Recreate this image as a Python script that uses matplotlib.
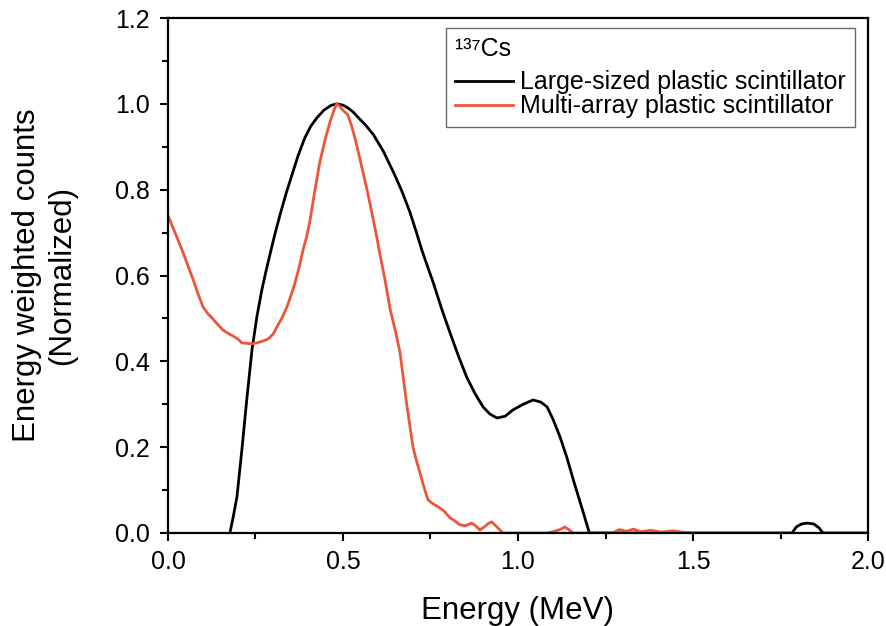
import matplotlib
matplotlib.use("Agg")
import matplotlib.pyplot as plt
from matplotlib.ticker import MultipleLocator

plt.rcParams['font.family'] = ['Liberation Sans', 'DejaVu Sans']

# Large-sized plastic scintillator
large_x = [0.177, 0.187, 0.197, 0.211, 0.225, 0.24, 0.254, 0.268, 0.28, 0.291, 0.305,
           0.32, 0.337, 0.354, 0.372, 0.391, 0.408, 0.425, 0.445, 0.465, 0.482, 0.50,
           0.515, 0.529, 0.545, 0.565, 0.587, 0.615, 0.644, 0.668, 0.691, 0.71, 0.725,
           0.742, 0.758, 0.782, 0.806, 0.83, 0.853, 0.877, 0.90, 0.92, 0.94, 0.963,
           0.986, 1.015, 1.043, 1.065, 1.083, 1.10, 1.12, 1.14, 1.158, 1.18, 1.204,
           1.40, 1.60, 1.783, 1.795, 1.81, 1.827, 1.845, 1.86, 1.871, 2.0]
large_y = [0.0, 0.04, 0.084, 0.193, 0.31, 0.427, 0.504, 0.566, 0.61, 0.648, 0.695,
           0.741, 0.79, 0.834, 0.88, 0.921, 0.948, 0.967, 0.985, 0.996, 1.0, 0.997,
           0.99, 0.981, 0.967, 0.95, 0.928, 0.89, 0.841, 0.797, 0.748, 0.70, 0.66,
           0.62, 0.583, 0.522, 0.466, 0.412, 0.364, 0.325, 0.294, 0.277, 0.268, 0.272,
           0.287, 0.30, 0.31, 0.305, 0.294, 0.265, 0.224, 0.175, 0.124, 0.065, 0.0,
           0.0, 0.0, 0.0, 0.014, 0.021, 0.023, 0.021, 0.012, 0.0, 0.0]

# Multi-array plastic scintillator
multi_x = [0.0, 0.02, 0.04, 0.056, 0.072, 0.086, 0.10, 0.113, 0.126, 0.142, 0.157,
           0.172, 0.186, 0.20, 0.211, 0.225, 0.24, 0.254, 0.27, 0.286, 0.30, 0.311,
           0.325, 0.34, 0.352, 0.363, 0.375, 0.386, 0.396, 0.405, 0.42, 0.434, 0.45,
           0.463, 0.474, 0.482, 0.49, 0.50, 0.514, 0.524, 0.534, 0.546, 0.557, 0.57,
           0.582, 0.594, 0.606, 0.62, 0.635, 0.65, 0.663, 0.683, 0.70, 0.71, 0.72,
           0.732, 0.743, 0.757, 0.772, 0.79, 0.806, 0.82, 0.834, 0.85, 0.868, 0.88,
           0.891, 0.905, 0.915, 0.925, 0.94, 0.957, 0.986, 1.083, 1.10, 1.12, 1.134,
           1.145, 1.157, 1.27, 1.29, 1.31, 1.33, 1.35, 1.38, 1.41, 1.44, 1.47, 1.49]
multi_y = [0.74, 0.70, 0.66, 0.625, 0.59, 0.557, 0.527, 0.512, 0.501, 0.486, 0.473,
           0.465, 0.459, 0.452, 0.443, 0.442, 0.441, 0.443, 0.447, 0.452, 0.463, 0.48,
           0.50, 0.527, 0.555, 0.583, 0.62, 0.66, 0.69, 0.725, 0.80, 0.865, 0.92,
           0.958, 0.985, 1.0, 0.995, 0.985, 0.974, 0.95, 0.921, 0.88, 0.841, 0.795,
           0.748, 0.70, 0.648, 0.59, 0.52, 0.47, 0.42, 0.294, 0.2, 0.168, 0.14,
           0.105, 0.077, 0.068, 0.061, 0.05, 0.035, 0.028, 0.019, 0.017, 0.023, 0.016,
           0.007, 0.015, 0.022, 0.026, 0.014, 0.0, 0.0, 0.0, 0.003, 0.008, 0.014,
           0.008, 0.0, 0.0, 0.008, 0.004, 0.009, 0.003, 0.006, 0.002, 0.005, 0.002, 0.0]

fig = plt.figure(figsize=(8.86, 6.26), dpi=100)
ax = fig.add_axes([0.1896, 0.1486, 0.7901, 0.8226])

ax.plot(large_x, large_y, color='black', lw=2.0, label='Large-sized plastic scintillator')
ax.plot(multi_x, multi_y, color='#ec553a', lw=2.0, label='Multi-array plastic scintillator')

ax.set_xlim(0, 2.0)
ax.set_ylim(0, 1.2)
ax.xaxis.set_major_locator(MultipleLocator(0.5))
ax.xaxis.set_minor_locator(MultipleLocator(0.25))
ax.yaxis.set_major_locator(MultipleLocator(0.2))
ax.yaxis.set_minor_locator(MultipleLocator(0.1))
ax.xaxis.set_major_formatter(plt.FuncFormatter(lambda v, p: f"{v:.1f}"))
ax.yaxis.set_major_formatter(plt.FuncFormatter(lambda v, p: f"{v:.1f}"))
ax.tick_params(which='major', direction='out', length=6, width=1.5, labelsize=18)
ax.tick_params(axis='x', which='major', pad=6)
ax.tick_params(axis='y', which='major', pad=7)
ax.tick_params(which='minor', direction='out', length=4, width=1.5)
for s in ax.spines.values():
    s.set_linewidth(1.6)
    s.set_zorder(3)

ax.set_xlabel('Energy (MeV)', fontsize=22.5, labelpad=16)
ax.set_ylabel('Energy weighted counts\n(Normalized)', fontsize=22.5, labelpad=27,
              linespacing=1.25)

leg = ax.legend(title='¹³⁷Cs', loc='upper right', bbox_to_anchor=(0.981, 0.981),
                fontsize=18, title_fontsize=18, frameon=True, fancybox=False,
                edgecolor='#444444', handlelength=2.3, handletextpad=0.3,
                borderpad=0.35, labelspacing=0.0, borderaxespad=0.0)
leg._legend_box.align = 'left'
leg._legend_box.sep = 7
leg.get_frame().set_linewidth(1.0)

fig.savefig('out.png', dpi=100)
